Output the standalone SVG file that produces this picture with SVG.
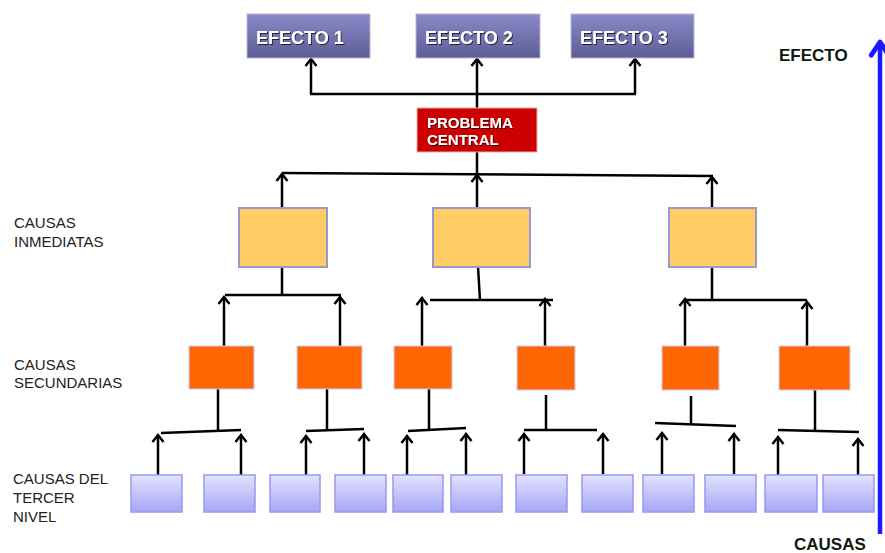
<svg xmlns="http://www.w3.org/2000/svg" width="885" height="553" viewBox="0 0 885 553">
<style>
.lbl{font-family:"Liberation Sans",Arial,sans-serif;font-size:15px;fill:#222}
.eff rect{fill:url(#gEff);stroke:#b8b8d8;stroke-width:1}
.eff text{font-family:"Liberation Sans",Arial,sans-serif;font-size:18px;font-weight:bold;fill:#fff;filter:url(#sh)}
.prob text{font-family:"Liberation Sans",Arial,sans-serif;font-size:15px;font-weight:bold;fill:#fff;filter:url(#sh)}
.inm{fill:#ffcc66;stroke:#9999cc;stroke-width:2}
.sec{fill:#ff6600;stroke:#ccccff;stroke-width:1}
.ter{fill:url(#gTer);stroke:#9999ee;stroke-width:1.5}
.c line,.c polyline{stroke:#000;stroke-width:2.5;fill:none}
.a{marker-end:url(#ah)}
.axis{font-family:"Liberation Sans",Arial,sans-serif;font-size:17px;font-weight:bold;fill:#0d1a0d}
</style>
<defs>
<linearGradient id="gEff" x1="0" y1="0" x2="0" y2="1"><stop offset="0" stop-color="#8a8ac8"/><stop offset="1" stop-color="#5c5c96"/></linearGradient>
<linearGradient id="gTer" x1="0" y1="0" x2="0" y2="1"><stop offset="0" stop-color="#e2e2ff"/><stop offset="1" stop-color="#a6a6f6"/></linearGradient>
<filter id="sh" x="-10%" y="-20%" width="130%" height="150%"><feDropShadow dx="1" dy="1" stdDeviation="0.6" flood-color="#000" flood-opacity="0.7"/></filter>
<marker id="ah" markerUnits="userSpaceOnUse" markerWidth="14" markerHeight="14" viewBox="-8 -7 10 14" refX="0" refY="0" orient="auto" overflow="visible"><path d="M-7,-5.5 L0,0 L-7,5.5" fill="none" stroke="#000" stroke-width="2.5"/></marker>
<marker id="bh" markerUnits="userSpaceOnUse" markerWidth="20" markerHeight="24" viewBox="-12 -11 14 22" refX="0" refY="0" orient="auto" overflow="visible"><path d="M-12,-8 L0,0 L-12,8" fill="none" stroke="#1a1aff" stroke-width="4.5" stroke-linecap="round" stroke-linejoin="round"/></marker>
</defs>

<g id="connectors" class="c">
<!-- effects -->
<line class="a" x1="311" y1="94" x2="311" y2="59"/>
<line class="a" x1="477" y1="108" x2="477" y2="59"/>
<line class="a" x1="635" y1="94" x2="635" y2="59"/>
<line x1="310" y1="94" x2="636" y2="94"/>
<!-- problema to inmediatas -->
<line x1="477" y1="152" x2="477" y2="174"/>
<line x1="282" y1="173" x2="713" y2="176"/>
<line class="a" x1="282" y1="207" x2="282" y2="174"/>
<line class="a" x1="477" y1="207" x2="477" y2="175"/>
<line class="a" x1="712" y1="208" x2="712" y2="177"/>
<!-- inmediata 1 -->
<line x1="282" y1="267" x2="282" y2="295"/>
<line x1="225" y1="295" x2="341" y2="295"/>
<line class="a" x1="224" y1="346" x2="224" y2="297"/>
<line class="a" x1="340" y1="346" x2="340" y2="297"/>
<!-- inmediata 2 -->
<line x1="478" y1="267" x2="480" y2="300"/>
<line x1="430" y1="300" x2="553" y2="300"/>
<line class="a" x1="422" y1="346" x2="422" y2="298"/>
<line class="a" x1="545" y1="346" x2="545" y2="299"/>
<!-- inmediata 3 -->
<line x1="712" y1="263" x2="712" y2="300"/>
<line x1="684" y1="300" x2="807" y2="300"/>
<line class="a" x1="685" y1="346" x2="685" y2="299"/>
<line class="a" x1="807" y1="350" x2="807" y2="302"/>
<!-- secundaria 1 -->
<line x1="218" y1="389" x2="218" y2="432"/>
<line x1="161" y1="433" x2="241" y2="430"/>
<line class="a" x1="158" y1="475" x2="158" y2="435"/>
<line class="a" x1="241" y1="475" x2="241" y2="435"/>
<!-- secundaria 2 -->
<line x1="327" y1="387" x2="327" y2="430"/>
<line x1="306" y1="431" x2="364" y2="429"/>
<line class="a" x1="306" y1="475" x2="306" y2="436"/>
<line class="a" x1="364" y1="475" x2="364" y2="434"/>
<!-- secundaria 3 -->
<line x1="429" y1="387" x2="429" y2="430"/>
<line x1="408" y1="431" x2="466" y2="428"/>
<line class="a" x1="407" y1="475" x2="407" y2="436"/>
<line class="a" x1="466" y1="475" x2="466" y2="434"/>
<!-- secundaria 4 -->
<line x1="546" y1="395" x2="546" y2="430"/>
<line x1="524" y1="430" x2="597" y2="430"/>
<line class="a" x1="524" y1="474" x2="524" y2="434"/>
<line class="a" x1="603" y1="474" x2="603" y2="434"/>
<!-- secundaria 5 -->
<line x1="691" y1="396" x2="691" y2="424"/>
<line x1="655" y1="423" x2="736" y2="426"/>
<line class="a" x1="662" y1="474" x2="662" y2="433"/>
<line class="a" x1="734" y1="474" x2="734" y2="434"/>
<!-- secundaria 6 -->
<line x1="815" y1="390" x2="815" y2="431"/>
<line x1="778" y1="430" x2="859" y2="432"/>
<line class="a" x1="778" y1="476" x2="778" y2="437"/>
<line class="a" x1="858" y1="476" x2="858" y2="439"/>
</g>

<g id="efecto1" class="eff"><rect x="247" y="14" width="123" height="44"/><text x="256" y="44">EFECTO 1</text></g>
<g id="efecto2" class="eff"><rect x="416" y="14" width="124" height="44"/><text x="425" y="44">EFECTO 2</text></g>
<g id="efecto3" class="eff"><rect x="571" y="14" width="123" height="44"/><text x="580" y="44">EFECTO 3</text></g>

<g id="problema" class="prob"><rect x="417" y="108" width="120" height="44" fill="#cc0000" stroke="#e8b0b0" stroke-width="1"/><text x="427" y="128">PROBLEMA</text><text x="427" y="145">CENTRAL</text></g>

<g id="inm1"><rect class="inm" x="239" y="208" width="88" height="59"/></g>
<g id="inm2"><rect class="inm" x="433" y="208" width="97" height="59"/></g>
<g id="inm3"><rect class="inm" x="669" y="208" width="87" height="59"/></g>

<g id="sec1"><rect class="sec" x="189" y="346" width="65" height="43"/></g>
<g id="sec2"><rect class="sec" x="297" y="346" width="65" height="43"/></g>
<g id="sec3"><rect class="sec" x="394" y="346" width="58" height="43"/></g>
<g id="sec4"><rect class="sec" x="517" y="346" width="58" height="44"/></g>
<g id="sec5"><rect class="sec" x="662" y="346" width="57" height="44"/></g>
<g id="sec6"><rect class="sec" x="779" y="346" width="71" height="44"/></g>

<g id="ter1"><rect class="ter" x="131" y="475" width="51" height="37"/></g>
<g id="ter2"><rect class="ter" x="204" y="475" width="51" height="37"/></g>
<g id="ter3"><rect class="ter" x="270" y="475" width="50" height="37"/></g>
<g id="ter4"><rect class="ter" x="335" y="475" width="51" height="37"/></g>
<g id="ter5"><rect class="ter" x="393" y="475" width="50" height="37"/></g>
<g id="ter6"><rect class="ter" x="451" y="475" width="51" height="37"/></g>
<g id="ter7"><rect class="ter" x="516" y="475" width="51" height="37"/></g>
<g id="ter8"><rect class="ter" x="582" y="475" width="51" height="37"/></g>
<g id="ter9"><rect class="ter" x="643" y="475" width="51" height="37"/></g>
<g id="ter10"><rect class="ter" x="705" y="475" width="51" height="37"/></g>
<g id="ter11"><rect class="ter" x="765" y="475" width="52" height="37"/></g>
<g id="ter12"><rect class="ter" x="823" y="475" width="51" height="37"/></g>

<g id="labels">
<text class="lbl" x="14" y="228">CAUSAS</text>
<text class="lbl" x="14" y="247">INMEDIATAS</text>
<text class="lbl" x="14" y="370">CAUSAS</text>
<text class="lbl" x="14" y="388">SECUNDARIAS</text>
<text class="lbl" x="13" y="484">CAUSAS DEL</text>
<text class="lbl" x="13" y="503">TERCER</text>
<text class="lbl" x="13" y="522">NIVEL</text>
</g>

<g id="axis">
<line x1="880" y1="534" x2="880" y2="42" stroke="#1a1aff" stroke-width="4.5" marker-end="url(#bh)"/>
<text class="axis" x="779" y="61">EFECTO</text>
<text class="axis" x="794" y="550">CAUSAS</text>
</g>
</svg>
